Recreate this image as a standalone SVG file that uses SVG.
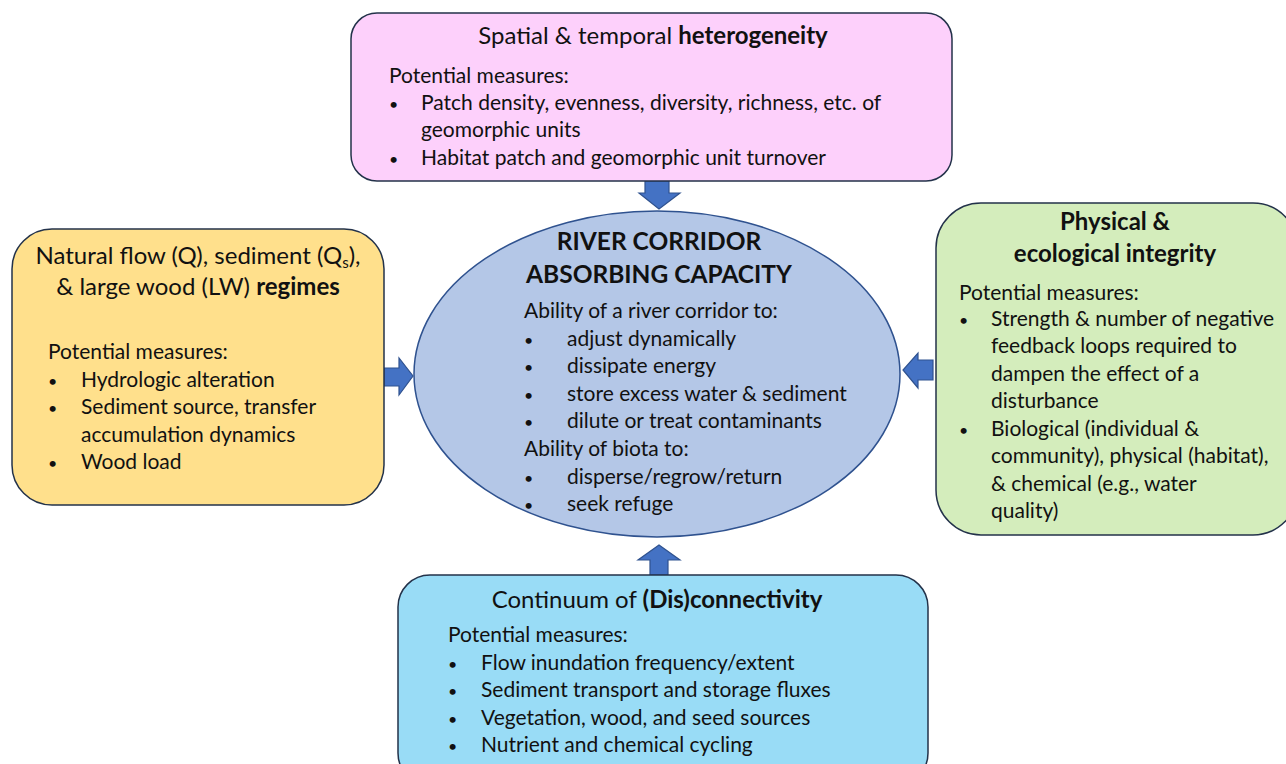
<svg xmlns="http://www.w3.org/2000/svg" width="1286" height="764" viewBox="0 0 1286 764">
<style>
text{font-family:Lato,"Open Sans","Liberation Sans",sans-serif;fill:#111;}
.t{font-size:24px;text-anchor:middle;}
.c{font-size:24.5px;font-weight:bold;text-anchor:middle;}
.b{font-size:21px;}
.d{font-size:16px;}
.box{stroke:#23324a;stroke-width:1.5;}
.arr{fill:#4472C4;stroke:#2F528F;stroke-width:1.2;}
</style>
<rect width="1286" height="764" fill="#fff"/>
<g id="connectors">
<polygon class="arr" points="645,181 669,181 669,193 680,193 659,209 639,193 645,193"/>
<polygon class="arr" points="384,368 399,368 399,358 413,376 399,395 399,386 384,386"/>
<polygon class="arr" points="933,360 918,360 918,353 903,370 918,388 918,380 933,380"/>
<polygon class="arr" points="650,575 668,575 668,560 680,560 659,545 638,560 650,560"/>
</g>
<g id="heterogeneity">
<rect class="box" x="351" y="13" width="601" height="168" rx="26" fill="#FDD0FB"/>
<text class="t" x="653" y="44">Spatial &amp; temporal <tspan font-weight="bold">heterogeneity</tspan></text>
<text class="b" x="389" y="83">Potential measures:</text>
<text class="b" x="389" y="110"><tspan class="d">•</tspan><tspan x="421">Patch density, evenness, diversity, richness, etc. of</tspan></text>
<text class="b" x="421" y="137">geomorphic units</text>
<text class="b" x="389" y="165"><tspan class="d">•</tspan><tspan x="421">Habitat patch and geomorphic unit turnover</tspan></text>
</g>
<g id="regimes">
<rect class="box" x="12" y="229" width="372" height="276" rx="40" fill="#FFE08C"/>
<text class="t" x="198" y="264">Natural flow (Q), sediment (Q<tspan font-size="15" dy="4">s</tspan><tspan dy="-4">),</tspan></text>
<text class="t" x="198" y="295">&amp; large wood (LW) <tspan font-weight="bold">regimes</tspan></text>
<text class="b" x="48" y="359">Potential measures:</text>
<text class="b" x="48" y="387"><tspan class="d">•</tspan><tspan x="81">Hydrologic alteration</tspan></text>
<text class="b" x="48" y="414"><tspan class="d">•</tspan><tspan x="81">Sediment source, transfer</tspan></text>
<text class="b" x="81" y="442">accumulation dynamics</text>
<text class="b" x="48" y="469"><tspan class="d">•</tspan><tspan x="81">Wood load</tspan></text>
</g>
<g id="integrity">
<rect class="box" x="936" y="203" width="362" height="332" rx="45" fill="#D4EDBC"/>
<text class="t" x="1115" y="230" font-weight="bold">Physical &amp;</text>
<text class="t" x="1115" y="262" font-weight="bold">ecological integrity</text>
<text class="b" x="959" y="300">Potential measures:</text>
<text class="b" x="959" y="326"><tspan class="d">•</tspan><tspan x="991">Strength &amp; number of negative</tspan></text>
<text class="b" x="991" y="353">feedback loops required to</text>
<text class="b" x="991" y="381">dampen the effect of a</text>
<text class="b" x="991" y="408">disturbance</text>
<text class="b" x="959" y="436"><tspan class="d">•</tspan><tspan x="991">Biological (individual &amp;</tspan></text>
<text class="b" x="991" y="463">community), physical (habitat),</text>
<text class="b" x="991" y="491">&amp; chemical (e.g., water</text>
<text class="b" x="991" y="518">quality)</text>
</g>
<g id="connectivity">
<rect class="box" x="398" y="575" width="530" height="210" rx="32" fill="#99DCF6"/>
<text class="t" x="657" y="608">Continuum of <tspan font-weight="bold">(Dis)connectivity</tspan></text>
<text class="b" x="448" y="642">Potential measures:</text>
<text class="b" x="448" y="670"><tspan class="d">•</tspan><tspan x="481">Flow inundation frequency/extent</tspan></text>
<text class="b" x="448" y="697"><tspan class="d">•</tspan><tspan x="481">Sediment transport and storage fluxes</tspan></text>
<text class="b" x="448" y="725"><tspan class="d">•</tspan><tspan x="481">Vegetation, wood, and seed sources</tspan></text>
<text class="b" x="448" y="752"><tspan class="d">•</tspan><tspan x="481">Nutrient and chemical cycling</tspan></text>
</g>
<g id="capacity">
<ellipse cx="657" cy="374" rx="243" ry="163" fill="#B4C7E7" stroke="#2F528F" stroke-width="1.5"/>
<text class="c" x="659" y="250">RIVER CORRIDOR</text>
<text class="c" x="659" y="283">ABSORBING CAPACITY</text>
<text class="b" x="524" y="318">Ability of a river corridor to:</text>
<text class="b" x="524" y="346"><tspan class="d">•</tspan><tspan x="567">adjust dynamically</tspan></text>
<text class="b" x="524" y="373"><tspan class="d">•</tspan><tspan x="567">dissipate energy</tspan></text>
<text class="b" x="524" y="401"><tspan class="d">•</tspan><tspan x="567">store excess water &amp; sediment</tspan></text>
<text class="b" x="524" y="428"><tspan class="d">•</tspan><tspan x="567">dilute or treat contaminants</tspan></text>
<text class="b" x="524" y="456">Ability of biota to:</text>
<text class="b" x="524" y="484"><tspan class="d">•</tspan><tspan x="567">disperse/regrow/return</tspan></text>
<text class="b" x="524" y="511"><tspan class="d">•</tspan><tspan x="567">seek refuge</tspan></text>
</g>
</svg>
